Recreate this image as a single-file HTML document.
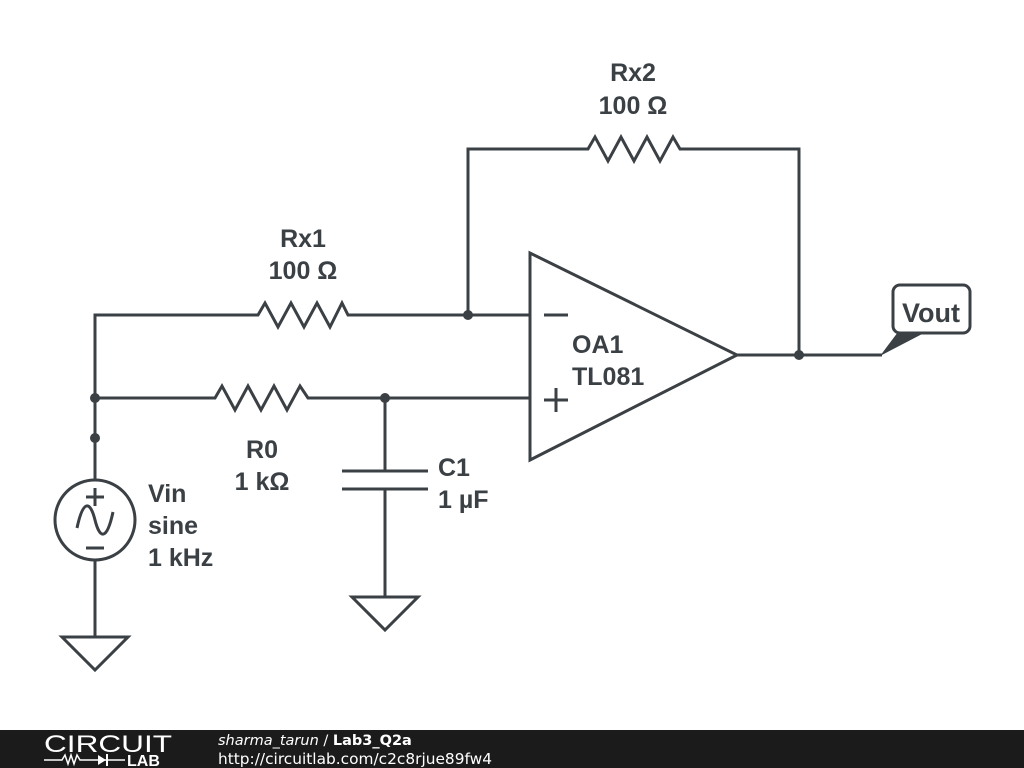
<!DOCTYPE html>
<html><head><meta charset="utf-8"><style>
html,body{margin:0;padding:0;background:#fff;}
svg{display:block}
</style></head><body>
<svg width="1024" height="768" viewBox="0 0 1024 768" xmlns="http://www.w3.org/2000/svg">
<rect width="1024" height="768" fill="#fff"/>
<g stroke="#3b4045" stroke-width="3" fill="none" stroke-linejoin="miter">
<polyline points="95,398 95,315 258,315 265,303 278,327 291,303 304,327 317,303 330,327 342,303 348,315 530,315"/>
<polyline points="468,315 468,149 588,149 595,137 608,161 621,137 634,161 647,137 660,161 673,137 680,149 799,149 799,355"/>
<polyline points="95,398 215,398 222,386 235,410 248,386 261,410 274,386 287,410 300,386 308,398 530,398"/>
<line x1="95" y1="398" x2="95" y2="480"/>
<circle cx="95" cy="520" r="40"/>
<line x1="95" y1="560" x2="95" y2="637"/>
<polygon points="62,637 128,637 95,670"/>
<line x1="385" y1="398" x2="385" y2="471"/>
<line x1="342" y1="471" x2="428" y2="471"/>
<line x1="342" y1="489" x2="428" y2="489"/>
<line x1="385" y1="489" x2="385" y2="597"/>
<polygon points="352,597 418,597 385,630"/>
<polygon points="530,253 530,460 737,355"/>
<line x1="544" y1="315" x2="568" y2="315"/>
<line x1="544" y1="400" x2="568" y2="400"/>
<line x1="556" y1="388" x2="556" y2="412"/>
<line x1="737" y1="355" x2="882" y2="355"/>
<rect x="893" y="285" width="77" height="48" rx="7"/>
<line x1="86" y1="497" x2="104" y2="497"/>
<line x1="95" y1="488" x2="95" y2="506"/>
<line x1="86" y1="548" x2="104" y2="548"/>
<path d="M77,528 C83,500 90,500 95,520 C100,540 107,540 113,512"/>
</g>
<polygon points="880,356 898,332 926,332" fill="#3b4045"/>
<g fill="#3b4045">
<circle cx="468" cy="315" r="5"/>
<circle cx="799" cy="355" r="5"/>
<circle cx="95" cy="398" r="5"/>
<circle cx="95" cy="438" r="5"/>
<circle cx="385" cy="398" r="5"/>
</g>
<g font-family="Liberation Sans, sans-serif" font-weight="bold" font-size="25" fill="#3b4045">
<text x="633" y="81" text-anchor="middle">Rx2</text>
<text x="633" y="114" text-anchor="middle">100 Ω</text>
<text x="303" y="247" text-anchor="middle">Rx1</text>
<text x="303" y="279" text-anchor="middle">100 Ω</text>
<text x="262" y="458" text-anchor="middle">R0</text>
<text x="262" y="490" text-anchor="middle">1 kΩ</text>
<text x="438" y="476">C1</text>
<text x="438" y="508">1 µF</text>
<text x="572" y="353">OA1</text>
<text x="572" y="385">TL081</text>
<text x="148" y="502">Vin</text>
<text x="148" y="534">sine</text>
<text x="148" y="566">1 kHz</text>
<text x="931" y="322" text-anchor="middle" font-size="27">Vout</text>
</g>
<rect x="0" y="730" width="1024" height="38" fill="#1b1b1b"/>
<text x="44" y="752" font-family="Liberation Sans, sans-serif" font-size="24" fill="#fff" textLength="128" lengthAdjust="spacingAndGlyphs">CIRCUIT</text>
<g stroke="#fff" stroke-width="1.5" fill="none">
<polyline points="44,760 62,760 65,755 68,764 71,755 74,764 77,755 80,760 95,760"/>
<line x1="95" y1="760" x2="125" y2="760"/>
</g>
<polygon points="98,755 98,765 106,760" fill="#fff"/>
<line x1="107" y1="754" x2="107" y2="766" stroke="#fff" stroke-width="2"/>
<text x="127" y="766" font-family="Liberation Sans, sans-serif" font-weight="bold" font-size="16" fill="#fff">LAB</text>
<text x="218" y="745" font-family="DejaVu Sans, sans-serif" font-size="14.5" fill="#fff"><tspan font-style="italic">sharma_tarun</tspan> / <tspan font-weight="bold">Lab3_Q2a</tspan></text>
<text x="218" y="764" font-family="DejaVu Sans, sans-serif" font-size="15" fill="#fff" textLength="274" lengthAdjust="spacingAndGlyphs">http://circuitlab.com/c2c8rjue89fw4</text>
</svg>
</body></html>
